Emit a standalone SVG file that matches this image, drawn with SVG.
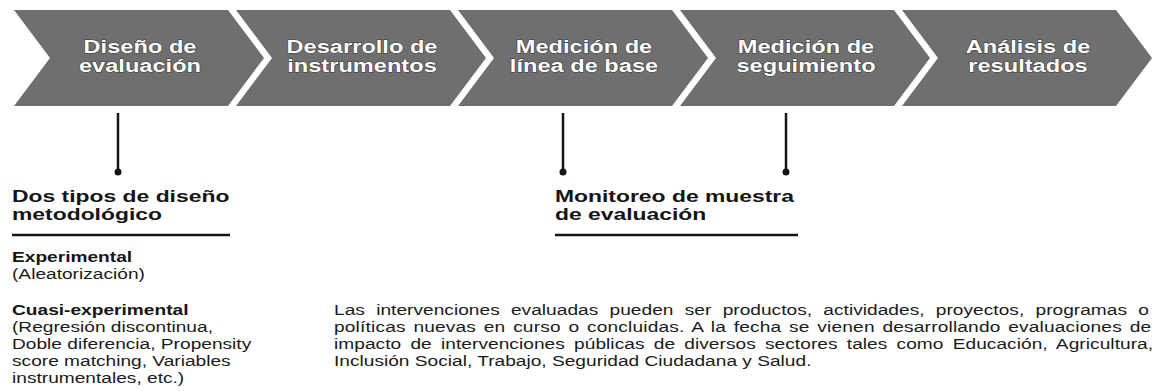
<svg xmlns="http://www.w3.org/2000/svg" width="1153" height="391" viewBox="0 0 1153 391">
<style>
.chev{fill:#6f6f6f;}
.step{font-family:'Liberation Sans',Arial,Helvetica,sans-serif;font-weight:bold;font-size:17.9px;fill:#ffffff;text-anchor:middle;stroke:#3a3a3a;stroke-width:1;paint-order:stroke;}
.head{font-family:'Liberation Sans',Arial,Helvetica,sans-serif;font-weight:bold;font-size:17.35px;fill:#151515;}
.lbl{font-family:'Liberation Sans',Arial,Helvetica,sans-serif;font-weight:bold;font-size:14.5px;fill:#151515;}
.txt{font-family:'Liberation Sans',Arial,Helvetica,sans-serif;font-size:14.5px;fill:#1a1a1a;}
.rule{stroke:#151515;stroke-width:2.5;}
.conn{stroke:#151515;stroke-width:2.5;}
.dot{fill:#151515;}
</style>
<rect width="1153" height="391" fill="#ffffff"/>
<g id="step1"><polygon class="chev" points="14,10 228,10 264,58 228,106 14,106 50,58"/><text class="step" transform="translate(140,53) scale(1.32,1)">Diseño de</text><text class="step" transform="translate(140,72) scale(1.32,1)">evaluación</text></g>
<g id="step2"><polygon class="chev" points="236,10 450,10 486,58 450,106 236,106 272,58"/><text class="step" transform="translate(362,53) scale(1.32,1)">Desarrollo de</text><text class="step" transform="translate(362,72) scale(1.32,1)">instrumentos</text></g>
<g id="step3"><polygon class="chev" points="458,10 672,10 708,58 672,106 458,106 494,58"/><text class="step" transform="translate(584,53) scale(1.32,1)">Medición de</text><text class="step" transform="translate(584,72) scale(1.32,1)">línea de base</text></g>
<g id="step4"><polygon class="chev" points="680,10 894,10 930,58 894,106 680,106 716,58"/><text class="step" transform="translate(806,53) scale(1.32,1)">Medición de</text><text class="step" transform="translate(806,72) scale(1.32,1)">seguimiento</text></g>
<g id="step5"><polygon class="chev" points="902,10 1116,10 1152,58 1116,106 902,106 938,58"/><text class="step" transform="translate(1028,53) scale(1.32,1)">Análisis de</text><text class="step" transform="translate(1028,72) scale(1.32,1)">resultados</text></g>
<g id="connectors">
<line class="conn" x1="118" y1="113" x2="118" y2="172"/><circle class="dot" cx="118" cy="172" r="3.5"/>
<line class="conn" x1="563" y1="113" x2="563" y2="172"/><circle class="dot" cx="563" cy="172" r="3.5"/>
<line class="conn" x1="786" y1="113" x2="786" y2="172"/><circle class="dot" cx="786" cy="172" r="3.5"/>
</g>
<g id="design-types">
<text class="head" transform="translate(12,202) scale(1.32,1)">Dos tipos de diseño</text>
<text class="head" transform="translate(12,220) scale(1.32,1)">metodológico</text>
<line class="rule" x1="12" y1="235" x2="230" y2="235"/>
<text class="lbl" transform="translate(12,262) scale(1.32,1)">Experimental</text>
<text class="txt" transform="translate(12,279) scale(1.32,1)">(Aleatorización)</text>
<text class="lbl" transform="translate(12,315) scale(1.32,1)">Cuasi-experimental</text>
<text class="txt" transform="translate(12,332) scale(1.32,1)">(Regresión discontinua,</text>
<text class="txt" transform="translate(12,349) scale(1.32,1)">Doble diferencia, Propensity</text>
<text class="txt" transform="translate(12,366) scale(1.32,1)">score matching, Variables</text>
<text class="txt" transform="translate(12,383) scale(1.32,1)">instrumentales, etc.)</text>
</g>
<g id="monitoring">
<text class="head" transform="translate(555,202) scale(1.32,1)">Monitoreo de muestra</text>
<text class="head" transform="translate(555,220) scale(1.32,1)">de evaluación</text>
<line class="rule" x1="555" y1="235" x2="798" y2="235"/>
</g>
<g id="description">
<text class="txt" transform="translate(334,315) scale(1.32,1)" word-spacing="4.5" textLength="617.4" lengthAdjust="spacing">Las intervenciones evaluadas pueden ser productos, actividades, proyectos, programas o</text>
<text class="txt" transform="translate(334,332) scale(1.32,1)" word-spacing="1.7" textLength="619" lengthAdjust="spacing">políticas nuevas en curso o concluidas. A la fecha se vienen desarrollando evaluaciones de</text>
<text class="txt" transform="translate(334,349) scale(1.32,1)" word-spacing="2.9" textLength="620.5" lengthAdjust="spacing">impacto de intervenciones públicas de diversos sectores tales como Educación, Agricultura,</text>
<text class="txt" transform="translate(334,366) scale(1.32,1)">Inclusión Social, Trabajo, Seguridad Ciudadana y Salud.</text>
</g>
</svg>
